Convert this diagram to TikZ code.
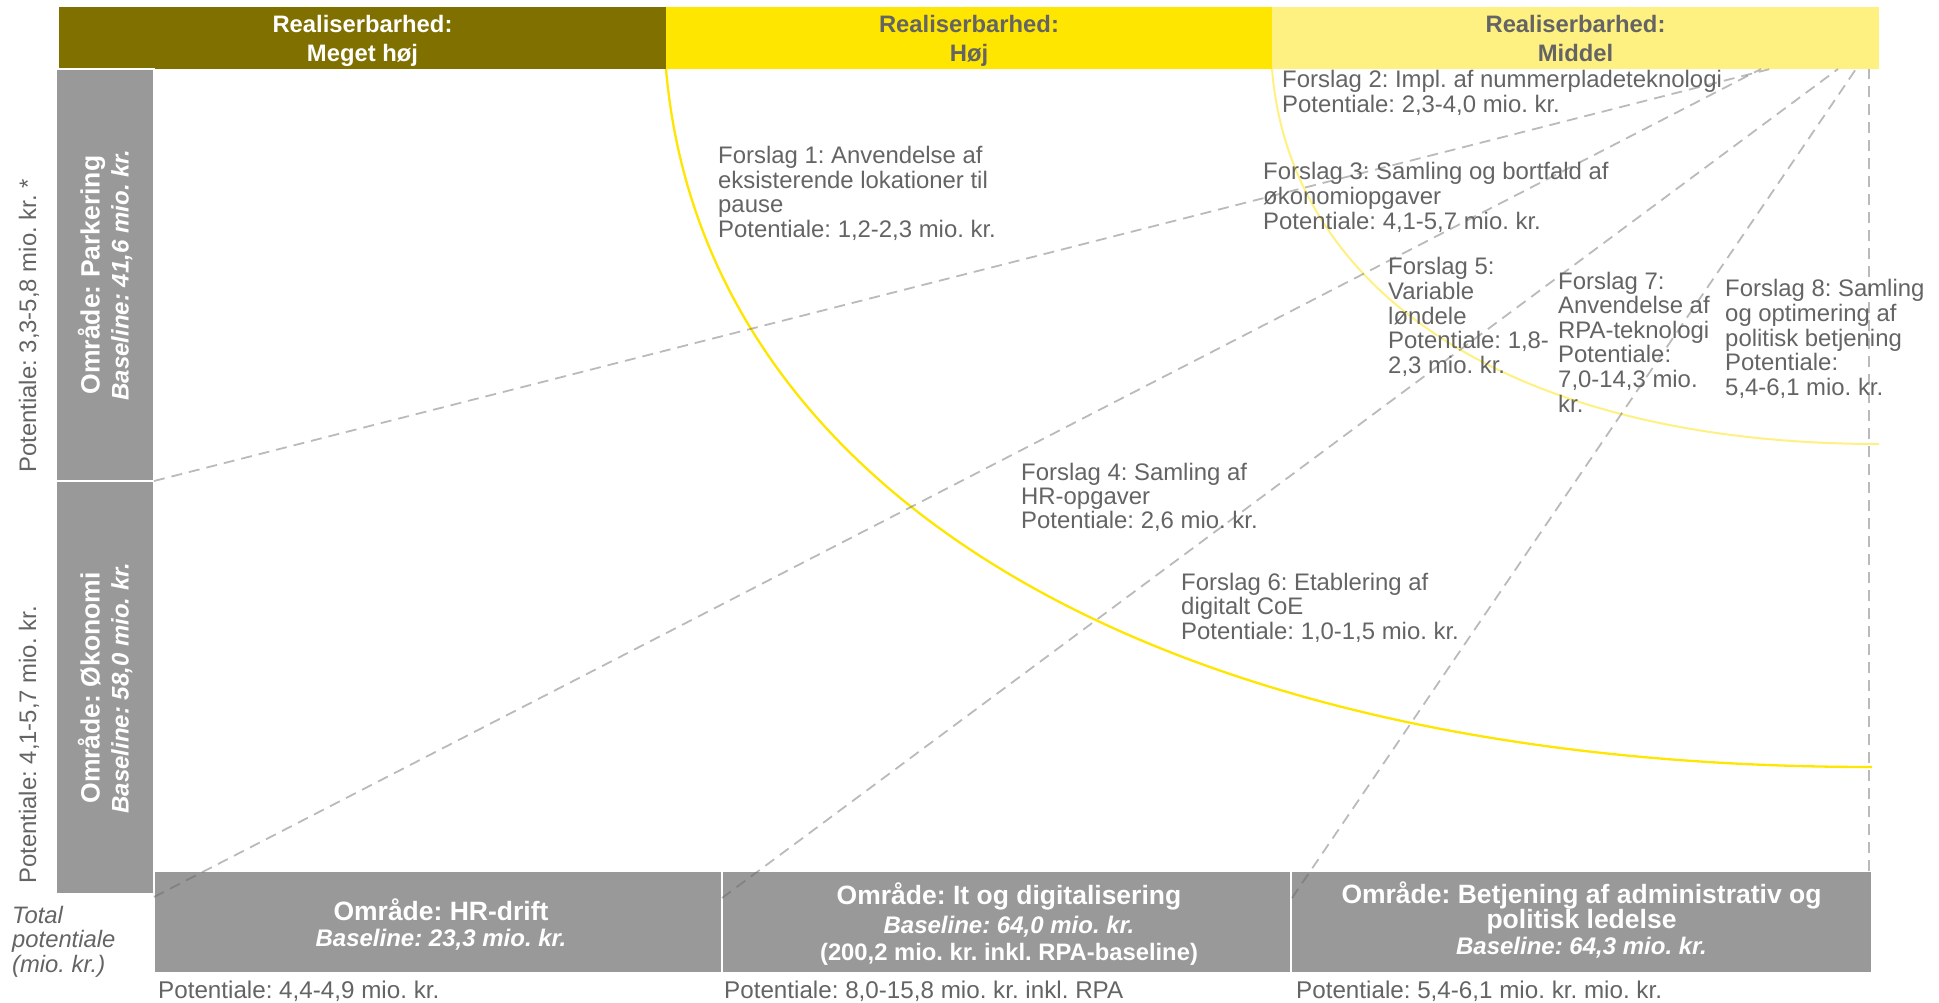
\documentclass[tikz,border=0pt]{standalone}
\usepackage{fontspec}
\setmainfont{Liberation Sans}
\frenchspacing
\definecolor{olivehdr}{HTML}{807000}
\definecolor{yelhdr}{HTML}{FFE600}
\definecolor{ltyel}{HTML}{FFF181}
\definecolor{boxgray}{HTML}{999999}
\definecolor{txtgray}{HTML}{646464}
\newcommand{\lft}[1]{\begin{tabular}[t]{@{}l@{}}#1\end{tabular}}
\newcommand{\ctr}[1]{\begin{tabular}[t]{@{}c@{}}#1\end{tabular}}
\begin{document}
\begin{tikzpicture}[x=1pt,y=-1pt,
  hbox/.style={anchor=north west, inner sep=0pt, outer sep=0pt, minimum height=62pt, minimum width=607pt},
  abox/.style={anchor=north west, inner sep=0pt, outer sep=0pt, fill=boxgray, draw=white, line width=1.5pt},
  htext/.style={anchor=base, inner sep=0pt, font=\fontsize{23.8}{29}\selectfont\bfseries},
  atitle/.style={anchor=base, inner sep=0pt, text=white, font=\fontsize{26.5}{28}\selectfont\bfseries},
  abase/.style={anchor=base, inner sep=0pt, text=white, font=\fontsize{24}{26}\selectfont\bfseries\itshape},
  ftext/.style={anchor=base west, inner sep=0pt, text=txtgray, font=\fontsize{23.9}{24.3}\selectfont},
  btext/.style={anchor=base west, inner sep=0pt, text=txtgray, font=\fontsize{24.2}{24.3}\selectfont},
  ptext/.style={anchor=base, inner sep=0pt, text=txtgray, font=\fontsize{23.9}{24.3}\selectfont},
  dline/.style={draw=black!60, draw opacity=0.45, line width=1.8pt, dash pattern=on 11pt off 7pt},
  arcbig/.style={draw=yelhdr, line width=2.3pt},
  arcsmall/.style={draw=ltyel, line width=2pt},
]
\useasboundingbox (0,0) rectangle (1939,1003);

% header
\node[hbox, fill=olivehdr] (h1) at (59,7) {};
\node[hbox, fill=yelhdr, minimum width=606pt] (h2) at (666,7) {};
\node[hbox, fill=ltyel] (h3) at (1272,7) {};
\node[htext, text=white] (h1t) at (362.5,33) {\ctr{Realiserbarhed:\\Meget høj}};
\node[htext, text=txtgray] (h2t) at (969,33) {\ctr{Realiserbarhed:\\Høj}};
\node[htext, text=txtgray] (h3t) at (1575.5,33) {\ctr{Realiserbarhed:\\Middel}};

% area boxes
\node[abox, minimum width=98pt, minimum height=412pt] (pk) at (56,69) {};
\node[abox, minimum width=98pt, minimum height=413pt] (ok) at (56,481) {};
\node[abox, minimum width=568pt, minimum height=102pt] (hr) at (154,871) {};
\node[abox, minimum width=569pt, minimum height=102pt] (it) at (722,871) {};
\node[abox, minimum width=581pt, minimum height=102pt] (bj) at (1291,871) {};

% arcs
\coordinate (A1s) at (666,69);
\coordinate (A1e) at (1872,767);
\coordinate (A2s) at (1272,69);
\coordinate (A2e) at (1879,444);
\draw[arcbig] (A1s) .. controls (702,488) and (1148,767) .. (A1e);
\draw[arcsmall] (A2s) .. controls (1290,294) and (1515,444) .. (A2e);

% dashed connectors
\coordinate (L1e) at (1770,69);
\coordinate (L2s) at (154,897);
\coordinate (L2e) at (1761,69);
\coordinate (L3s) at (722,898);
\coordinate (L3e) at (1838,69);
\coordinate (L4s) at (1292,898);
\coordinate (L4e) at (1856,69);
\coordinate (L5s) at (1869,871);
\coordinate (L5e) at (1869,69);
\draw[dline] (pk.south east) -- (L1e);
\draw[dline] (L2s) -- (L2e);
\draw[dline] (L3s) -- (L3e);
\draw[dline] (L4s) -- (L4e);
\draw[dline] (L5s) -- (L5e);

% area texts (left, rotated)
\node[atitle, rotate=90] (pkt) at (99.5,275) {Område: Parkering};
\node[abase, rotate=90] (pkb) at (128.5,275) {Baseline: 41,6 mio. kr.};
\node[atitle, rotate=90] (okt) at (99.5,688) {Område: Økonomi};
\node[abase, rotate=90] (okb) at (128.5,688) {Baseline: 58,0 mio. kr.};
\node[ptext, rotate=90] (pkp) at (36,326) {Potentiale: 3,3-5,8 mio. kr. *};
\node[ptext, rotate=90] (okp) at (36,745) {Potentiale: 4,1-5,7 mio. kr.};

% bottom area texts
\node[atitle] (hrt) at (441,920) {Område: HR-drift};
\node[abase] (hrb) at (441,946) {Baseline: 23,3 mio. kr.};
\node[atitle] (itt) at (1009,904) {Område: It og digitalisering};
\node[abase] (itb) at (1009,933) {Baseline: 64,0 mio. kr.};
\node[atitle, font=\fontsize{23.8}{26}\selectfont\bfseries] (itr) at (1009,960) {(200,2 mio. kr. inkl. RPA-baseline)};
\node[atitle] (bjt) at (1581.5,903) {Område: Betjening af administrativ og};
\node[atitle] (bjt2) at (1581.5,928) {politisk ledelse};
\node[abase] (bjb) at (1581.5,954) {Baseline: 64,3 mio. kr.};

\node[btext] (hrp) at (158,998) {Potentiale: 4,4-4,9 mio. kr.};
\node[btext] (itp) at (724,998) {Potentiale: 8,0-15,8 mio. kr. inkl. RPA};
\node[btext] (bjp) at (1296,998) {Potentiale: 5,4-6,1 mio. kr. mio. kr.};
\node[ftext, font=\fontsize{23.8}{24.5}\selectfont\itshape] (tot) at (12,923) {\lft{Total\\potentiale\\(mio. kr.)}};

% proposals
\node[ftext] (f1) at (718,164) {\lft{Forslag 1: Anvendelse af\\eksisterende lokationer til\\pause\\Potentiale: 1,2-2,3 mio. kr.}};
\node[ftext] (f2) at (1282,88) {\lft{Forslag 2: Impl. af nummerpladeteknologi\\Potentiale: 2,3-4,0 mio. kr.}};
\node[ftext] (f3) at (1263,180) {\lft{Forslag 3: Samling og bortfald af\\økonomiopgaver\\Potentiale: 4,1-5,7 mio. kr.}};
\node[ftext] (f4) at (1021,480) {\lft{Forslag 4: Samling af\\HR-opgaver\\Potentiale: 2,6 mio. kr.}};
\node[ftext] (f5) at (1388,275) {\lft{Forslag 5:\\Variable\\løndele\\Potentiale: 1,8-\\2,3 mio. kr.}};
\node[ftext] (f6) at (1181,590) {\lft{Forslag 6: Etablering af\\digitalt CoE\\Potentiale: 1,0-1,5 mio. kr.}};
\node[ftext] (f7) at (1558,289) {\lft{Forslag 7:\\Anvendelse af\\RPA-teknologi\\Potentiale:\\7,0-14,3 mio.\\kr.}};
\node[ftext] (f8) at (1725,297) {\lft{Forslag 8: Samling\\og optimering af\\politisk betjening\\Potentiale:\\5,4-6,1 mio. kr.}};
\end{tikzpicture}
\end{document}
